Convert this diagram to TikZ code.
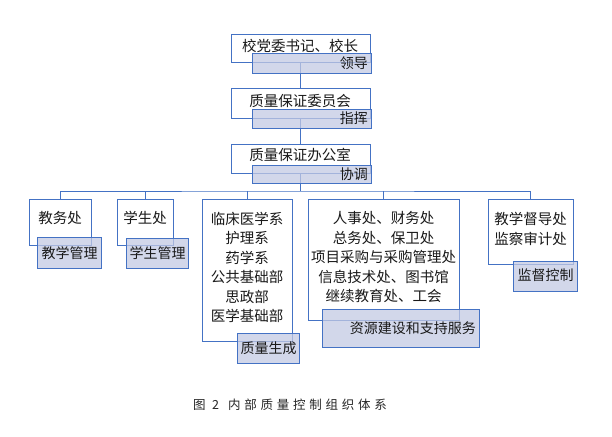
\documentclass[tikz,border=0pt]{standalone}
\usepackage{fontspec}
\setmainfont{Noto Sans CJK SC}
\newfontfamily\capfont[LetterSpace=30]{Noto Sans CJK SC}
\definecolor{boxblue}{HTML}{4472C4}
\definecolor{shadefill}{RGB}{195,202,228}
\begin{document}
\begin{tikzpicture}[x=1pt,y=-1pt,
  wbox/.style={draw=boxblue, fill=white, line width=0.9pt, inner sep=0pt},
  sbox/.style={draw=boxblue, fill=shadefill, fill opacity=0.75, line width=0.9pt, inner sep=0pt},
  txt/.style={font=\fontsize{14.5}{19.5}\selectfont, align=center, inner sep=0pt, text=black!90},
  lbl/.style={font=\fontsize{14}{16}\selectfont, inner sep=0pt, text=black!90},
  captxt/.style={inner sep=0pt, anchor=west, text=black!85, font=\capfont\fontsize{12.5}{14}\selectfont},
  conn/.style={draw=boxblue, line width=0.9pt}]
\useasboundingbox (0,0) rectangle (612,436);
\fill[white] (0,0) rectangle (612,436);

% white boxes
\node[wbox, minimum width=139pt, minimum height=28pt] (b1) at (300.5,48) {};
\node[wbox, minimum width=139pt, minimum height=30pt] (b2) at (300.5,103) {};
\node[wbox, minimum width=139pt, minimum height=29pt] (b3) at (300.5,158.5) {};
\node[wbox, minimum width=62pt, minimum height=46pt] (d1) at (60,222) {};
\node[wbox, minimum width=56pt, minimum height=46pt] (d2) at (145,222) {};
\node[wbox, minimum width=90pt, minimum height=142pt] (d3) at (247,270) {};
\node[wbox, minimum width=151pt, minimum height=121pt] (d4) at (383.5,259.5) {};
\node[wbox, minimum width=85pt, minimum height=65pt] (d5) at (530.5,231.5) {};

% connectors
\coordinate (bus) at (300.5,191);
\draw[conn] (b1.south) -- (b2.north);
\draw[conn] (b2.south) -- (b3.north);
\draw[conn] (b3.south) -- (bus);
\draw[conn] (d1.north) |- (bus) -| (d5.north);
\draw[conn] (d2.north) -- (d2.north |- bus);
\draw[conn] (d3.north) -- (d3.north |- bus);
\draw[conn] (d4.north) -- (d4.north |- bus);

% shaded boxes
\node[sbox, minimum width=119pt, minimum height=20pt] (s1) at (311.5,63) {};
\node[sbox, minimum width=119pt, minimum height=19pt] (s2) at (311.5,118.5) {};
\node[sbox, minimum width=119pt, minimum height=18pt] (s3) at (311.5,174) {};
\node[sbox, minimum width=64pt, minimum height=31pt] (e1) at (69,252.5) {};
\node[sbox, minimum width=62pt, minimum height=30pt] (e2) at (157,253) {};
\node[sbox, minimum width=62pt, minimum height=30pt] (e3) at (268,348) {};
\node[sbox, minimum width=157pt, minimum height=38pt] (e4) at (400.5,328) {};
\node[sbox, minimum width=64pt, minimum height=30pt] (e5) at (545,276) {};

% texts in white boxes
\node[txt] (t1) at (300,46) {校党委书记、校长};
\node[txt] (t2) at (300,101) {质量保证委员会};
\node[txt] (t3) at (300,155) {质量保证办公室};
\node[txt] (u1) at (60,218) {教务处};
\node[txt] (u2) at (145,218) {学生处};
\node[txt] (u3) at (247,267.5) {临床医学系\\护理系\\药学系\\公共基础部\\思政部\\医学基础部};
\node[txt] (u4) at (383.5,257) {人事处、财务处\\总务处、保卫处\\项目采购与采购管理处\\信息技术处、图书馆\\继续教育处、工会};
\node[txt] (u5) at (530.5,229) {教学督导处\\监察审计处};

% labels in shaded boxes
\node[lbl, anchor=east] (l1) at (368,63) {领导};
\node[lbl, anchor=east] (l2) at (368,118.5) {指挥};
\node[lbl, anchor=east] (l3) at (368,174) {协调};
\node[lbl] (m1) at (69.5,253) {教学管理};
\node[lbl] (m2) at (157.5,253) {学生管理};
\node[lbl] (m3) at (268.5,348) {质量生成};
\node[lbl, anchor=east] (m4) at (476,328) {资源建设和支持服务};
\node[lbl] (m5) at (545.5,275.5) {监督控制};

% caption
\node[captxt] (cap1) at (193,405) {图};
\node[captxt] (cap2) at (212,405) {2};
\node[captxt] (cap3) at (228,405) {内部质量控制组织体系};
\end{tikzpicture}
\end{document}
